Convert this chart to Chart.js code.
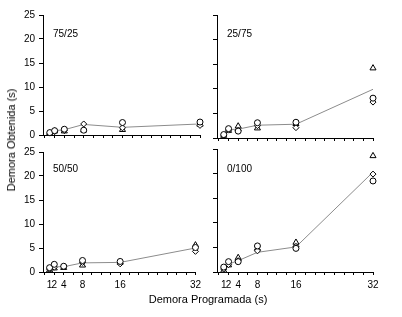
<!DOCTYPE html>
<html>
<head>
<meta charset="utf-8">
<script src="https://cdn.jsdelivr.net/npm/chart.js@4/dist/chart.umd.min.js"></script>
<style>
  body { margin: 0; background: #fff; width: 402px; height: 317px; overflow: hidden; position: relative; font-family: Arial, "Liberation Sans", sans-serif; }
  canvas { position: absolute; }
  .rot { position: absolute; font-size: 10px; color: #000; }
  .titulo { position: absolute; font-size: 11px; color: #000; white-space: nowrap; }
</style>
</head>
<body>
<canvas id="g7525" width="205" height="145" style="left:0;top:0"></canvas>
<canvas id="g2575" width="180" height="145" style="left:205px;top:0"></canvas>
<canvas id="g5050" width="205" height="160" style="left:0;top:142px"></canvas>
<canvas id="g0100" width="180" height="160" style="left:205px;top:142px"></canvas>

<div class="rot" style="left:53px;top:28px">75/25</div>
<div class="rot" style="left:227px;top:28px">25/75</div>
<div class="rot" style="left:53px;top:163px">50/50</div>
<div class="rot" style="left:227px;top:163px">0/100</div>

<div class="titulo" style="left:11px;top:140px;transform:translate(-50%,-50%) rotate(-90deg)">Demora Obtenida (s)</div>
<div class="titulo" style="left:208px;top:299px;transform:translate(-50%,-50%)">Demora Programada (s)</div>

<script>
// demora programada (s)
const demoras = [1, 2, 4, 8, 16, 32];
const rotulosX = [1, 2, 4, 8, 16, 32];
const marcasX = [0, 1, 2, 4, 6, 8, 10, 12, 14, 16, 18, 20, 22, 24, 26, 28, 30, 32];
const marcasY = [0, 5, 10, 15, 20, 25];

// 75/25
const circ7525 = [0.5, 0.9, 1.2, 1.0, 2.6, 2.7];
const tri7525  = [0.4, 0.8, 0.8, 1.0, 1.1, 2.2];
const los7525  = [0.4, 0.7, 0.9, 2.3, 1.5, 2.0];
const med7525  = [0.5, 0.9, 1.1, 2.2, 1.6, 2.3];

// 25/75
const circ2575 = [0.7, 1.9, 1.4, 3.1, 3.2, 8.1];
const tri2575  = [0.5, 1.5, 2.4, 2.0, 2.9, 14.2];
const los2575  = [0.6, 1.6, 1.5, 2.5, 2.1, 7.3];
const med2575  = [0.7, 1.7, 1.8, 2.6, 2.8, 9.9];

// 50/50
const circ5050 = [0.9, 1.6, 1.2, 2.4, 2.2, 5.1];
const tri5050  = [0.4, 0.8, 0.9, 1.4, 2.0, 5.6];
const los5050  = [0.6, 1.0, 1.1, 2.0, 1.7, 4.3];
const med5050  = [0.7, 1.1, 1.1, 1.9, 2.0, 5.0];

// 0/100
const circ0100 = [1.0, 2.1, 2.1, 5.3, 4.8, 18.5];
const tri0100  = [0.3, 1.4, 2.9, 4.8, 6.0, 23.6];
const los0100  = [0.6, 1.5, 2.3, 4.3, 5.2, 19.9];
const med0100  = [0.7, 1.6, 2.3, 4.0, 5.1, 20.3];

Chart.defaults.font.family = 'Arial, "Liberation Sans", sans-serif';
Chart.defaults.font.size = 10;
Chart.defaults.color = '#000';

function pontos(valores) {
  return demoras.map((d, i) => ({ x: d, y: valores[i] }));
}

function serie(valores, estilo, ordem) {
  return {
    data: pontos(valores),
    pointStyle: estilo,
    pointRadius: estilo === 'triangle' ? 3.5 : 3,
    borderColor: '#000',
    backgroundColor: '#fff',
    borderWidth: 1,
    showLine: false,
    clip: false,
    order: ordem
  };
}

function painel(id, circ, tri, los, med, esquerda, baixo) {
  new Chart(document.getElementById(id), {
    type: 'scatter',
    data: {
      datasets: [
        {
          data: pontos(med),
          showLine: true,
          borderColor: '#8c8c8c',
          borderWidth: 1,
          pointRadius: 0,
          clip: false,
          order: 5
        },
        serie(tri, 'triangle', 3),
        serie(los, 'rectRot', 2),
        serie(circ, 'circle', 1)
      ]
    },
    options: {
      responsive: false,
      animation: false,
      devicePixelRatio: 1,
      layout: { padding: { left: 0, right: esquerda ? 4 : 12, top: baixo ? 7 : 15, bottom: 0 } },
      plugins: { legend: { display: false }, tooltip: { enabled: false } },
      scales: {
        x: {
          type: 'linear',
          min: -0.4,
          max: 32,
          afterBuildTicks: s => { s.ticks = marcasX.map(v => ({ value: v })); },
          afterFit: s => { s.height = baixo ? 30 : 7; },
          ticks: {
            display: baixo,
            autoSkip: false,
            maxRotation: 0,
            padding: 4,
            callback: v => rotulosX.includes(v) ? String(v) : ''
          },
          grid: {
            drawOnChartArea: false,
            tickLength: 3,
            tickColor: c => (c.tick && c.tick.value === 1) ? 'rgba(0,0,0,0)' : '#000'
          },
          border: { color: '#000', width: 1 }
        },
        y: {
          min: 0,
          max: 25,
          afterBuildTicks: s => { s.ticks = marcasY.map(v => ({ value: v })); },
          afterFit: s => { s.width = esquerda ? 43 : 12; },
          ticks: { display: esquerda, padding: 4 },
          grid: { drawOnChartArea: false, tickLength: 4, tickColor: '#000' },
          border: { color: '#000', width: 1 }
        }
      }
    }
  });
}

painel('g7525', circ7525, tri7525, los7525, med7525, true, false);
painel('g2575', circ2575, tri2575, los2575, med2575, false, false);
painel('g5050', circ5050, tri5050, los5050, med5050, true, true);
painel('g0100', circ0100, tri0100, los0100, med0100, false, true);
</script>
</body>
</html>
